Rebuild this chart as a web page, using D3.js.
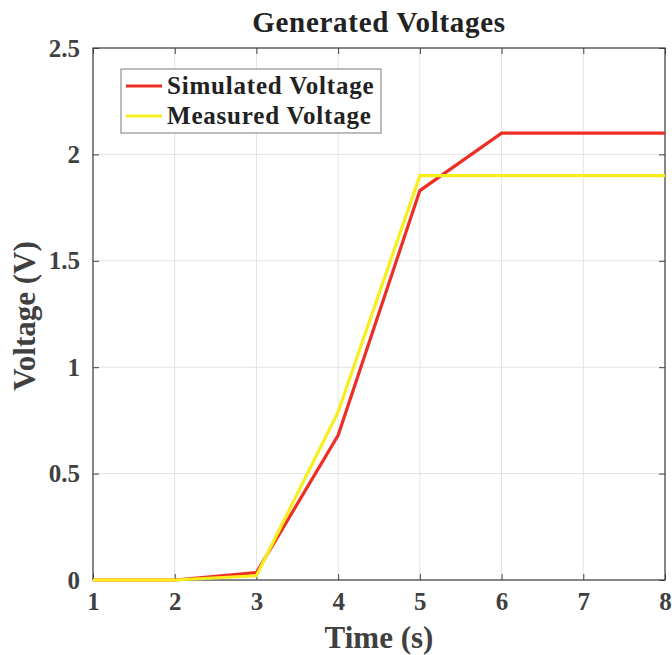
<!DOCTYPE html>
<html>
<head>
<meta charset="utf-8">
<script src="https://cdn.jsdelivr.net/npm/d3@7"></script>
<style>
  body { margin: 0; background: #fff; }
  svg text { font-family: "Liberation Serif", "DejaVu Serif", serif; font-weight: bold; }
</style>
</head>
<body>
<svg id="chart" width="672" height="655"></svg>
<script>
// Time samples (s) and the two voltage traces (V)
const time = [1, 2, 3, 4, 5, 6, 7, 8];
const simulatedVoltage = [0, 0, 0.035, 0.68, 1.83, 2.1, 2.1, 2.1];
const measuredVoltage = [0, 0, 0.02, 0.79, 1.9, 1.9, 1.9, 1.9];
const seriesNames = ["Simulated Voltage", "Measured Voltage"];
const xTicks = [1, 2, 3, 4, 5, 6, 7, 8];
const yTicks = [0, 0.5, 1, 1.5, 2, 2.5];

const svg = d3.select("#chart");
const m = { left: 93, right: 665, top: 48, bottom: 580 };
const x = d3.scaleLinear().domain([1, 8]).range([m.left, m.right]);
const y = d3.scaleLinear().domain([0, 2.5]).range([m.bottom, m.top]);
const axisColor = "#404040";

// grid
const grid = svg.append("g");
grid.selectAll(".gx").data(xTicks).join("line")
  .attr("x1", d => x(d)).attr("x2", d => x(d))
  .attr("y1", m.top).attr("y2", m.bottom)
  .attr("stroke", "#e3e3e3").attr("stroke-width", 1);
grid.selectAll(".gy").data(yTicks).join("line")
  .attr("x1", m.left).attr("x2", m.right)
  .attr("y1", d => y(d)).attr("y2", d => y(d))
  .attr("stroke", "#e3e3e3").attr("stroke-width", 1);

// axes with inward ticks (box style)
const styleAxis = g => {
  g.select(".domain").remove();
  g.selectAll(".tick line").attr("stroke", axisColor);
  g.selectAll(".tick text").attr("fill", axisColor).style("font-size", "25px");
};
svg.append("g").attr("transform", `translate(0,${m.bottom})`)
  .call(d3.axisBottom(x).tickValues(xTicks).tickSize(-6).tickPadding(12).tickFormat(d3.format("d")))
  .call(styleAxis);
svg.append("g").attr("transform", `translate(${m.left},0)`)
  .call(d3.axisLeft(y).tickValues(yTicks).tickSize(-6).tickPadding(13).tickFormat(d => d3.format("")(d)))
  .call(styleAxis);
svg.append("g").attr("transform", `translate(0,${m.top})`)
  .call(d3.axisTop(x).tickValues(xTicks).tickSize(-6).tickFormat(""))
  .call(styleAxis);
svg.append("g").attr("transform", `translate(${m.right},0)`)
  .call(d3.axisRight(y).tickValues(yTicks).tickSize(-6).tickFormat(""))
  .call(styleAxis);

// frame
svg.append("rect").attr("x", m.left).attr("y", m.top)
  .attr("width", m.right - m.left).attr("height", m.bottom - m.top)
  .attr("fill", "none").attr("stroke", axisColor).attr("stroke-width", 1.2);

// lines
const line = d3.line().x((d, i) => x(time[i])).y(d => y(d));
const colors = ["#ee2e24", "#f7ee1c"];
[simulatedVoltage, measuredVoltage].forEach((s, k) => {
  svg.append("path").datum(s).attr("d", line)
    .attr("fill", "none").attr("stroke", colors[k]).attr("stroke-width", 3.2)
    .attr("stroke-linejoin", "miter");
});

// title and axis labels
svg.append("text").attr("x", 379).attr("y", 32).attr("text-anchor", "middle")
  .attr("fill", "#222").style("font-size", "29px").style("letter-spacing", "0.7px")
  .text("Generated Voltages");
svg.append("text").attr("x", 379).attr("y", 648).attr("text-anchor", "middle")
  .attr("fill", axisColor).style("font-size", "31px").text("Time (s)");
svg.append("text").attr("transform", "translate(35,316) rotate(-90)").attr("text-anchor", "middle")
  .attr("fill", axisColor).style("font-size", "31px").text("Voltage (V)");

// legend
const lg = svg.append("g");
lg.append("rect").attr("x", 121).attr("y", 69).attr("width", 260).attr("height", 64)
  .attr("fill", "#fff").attr("stroke", "#7a7a7a").attr("stroke-width", 1);
seriesNames.forEach((name, k) => {
  const yy = 86 + k * 30;
  lg.append("line").attr("x1", 126).attr("x2", 162).attr("y1", yy).attr("y2", yy)
    .attr("stroke", colors[k]).attr("stroke-width", 3.2);
  lg.append("text").attr("x", 167).attr("y", yy + 8).attr("fill", "#222")
    .style("font-size", "25px").style("letter-spacing", "0.8px").text(name);
});
</script>
</body>
</html>
